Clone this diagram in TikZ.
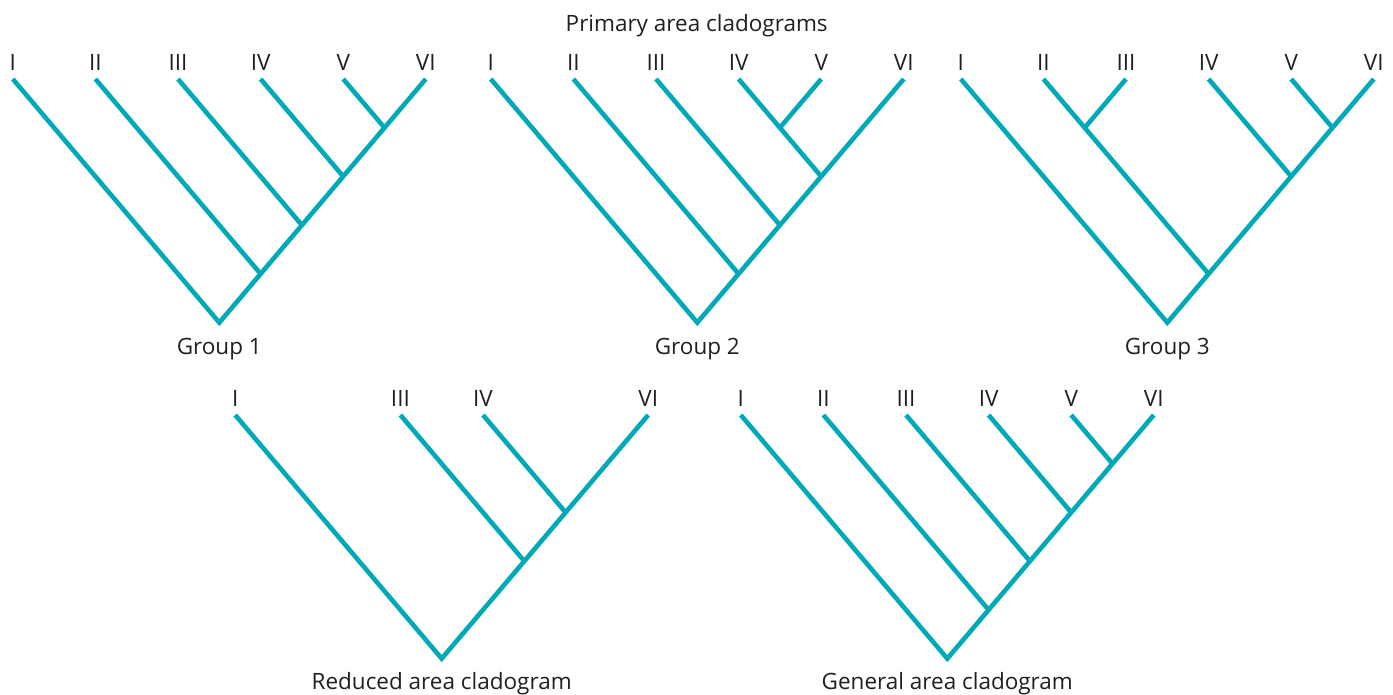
\documentclass[tikz,border=0pt]{standalone}
\usepackage{fontspec}
\setmainfont{Open Sans}
\definecolor{tealc}{HTML}{00A9B7}
\definecolor{ink}{HTML}{231F20}
\newcommand\dd{82.6}
\newcommand\ssl{1.1796}
\newcommand\J[3]{\coordinate (#1) at ({(#2+#3)/2*\dd},{(#3-#2)/2*\dd*\ssl});}
\newcommand\Tip[2]{\coordinate (t#1) at ({#1*\dd},0); \node[lab] (l#1) at ({#1*\dd},-8.5) {#2};}
\begin{document}
\begin{tikzpicture}[x=1pt,y=-1pt,
  lab/.style={anchor=base,inner sep=0pt,text=ink,font=\fontsize{22.5}{26}\selectfont},
  captxt/.style={anchor=base,inner sep=0pt,text=ink,font=\fontsize{22.5}{26}\selectfont},
  br/.style={draw=tealc,line width=4.6pt,line cap=butt,line join=miter}]
\useasboundingbox (0,0) rectangle (1393,694);
\fill[white] (0,0) rectangle (1393,694);
\node[captxt] (title) at (696.7,31) {Primary area cladograms};
% Group 1
\begin{scope}[shift={(12.8,79)}]
\Tip{0}{I}\Tip{1}{II}\Tip{2}{III}\Tip{3}{IV}\Tip{4}{V}\Tip{5}{VI}
\J{a45}{4}{5}\J{a35}{3}{5}\J{a25}{2}{5}\J{a15}{1}{5}\J{a05}{0}{5}
\draw[br] (t0) -- (a05) -- (t5);
\draw[br] (t1) -- (a15);
\draw[br] (t2) -- (a25);
\draw[br] (t3) -- (a35);
\draw[br] (t4) -- (a45);
\node[captxt] (g1) at ([yshift=-32]a05) {Group 1};
\end{scope}
% Group 2
\begin{scope}[shift={(490.8,79)}]
\Tip{0}{I}\Tip{1}{II}\Tip{2}{III}\Tip{3}{IV}\Tip{4}{V}\Tip{5}{VI}
\J{b34}{3}{4}\J{b35}{3}{5}\J{b25}{2}{5}\J{b15}{1}{5}\J{b05}{0}{5}
\draw[br] (t0) -- (b05) -- (t5);
\draw[br] (t1) -- (b15);
\draw[br] (t2) -- (b25);
\draw[br] (t3) -- (b35);
\draw[br] (t4) -- (b34);
\node[captxt] (g2) at ([yshift=-32]b05) {Group 2};
\end{scope}
% Group 3
\begin{scope}[shift={(960.8,79)}]
\Tip{0}{I}\Tip{1}{II}\Tip{2}{III}\Tip{3}{IV}\Tip{4}{V}\Tip{5}{VI}
\J{c12}{1}{2}\J{c45}{4}{5}\J{c35}{3}{5}\J{c15}{1}{5}\J{c05}{0}{5}
\draw[br] (t0) -- (c05) -- (t5);
\draw[br] (t1) -- (c15);
\draw[br] (t2) -- (c12);
\draw[br] (t3) -- (c35);
\draw[br] (t4) -- (c45);
\node[captxt] (g3) at ([yshift=-32]c05) {Group 3};
\end{scope}
% Reduced
\begin{scope}[shift={(235.2,415)}]
\Tip{0}{I}\Tip{2}{III}\Tip{3}{IV}\Tip{5}{VI}
\J{d35}{3}{5}\J{d25}{2}{5}\J{d05}{0}{5}
\draw[br] (t0) -- (d05) -- (t5);
\draw[br] (t2) -- (d25);
\draw[br] (t3) -- (d35);
\node[captxt] (g4) at ([yshift=-31]d05) {Reduced area cladogram};
\end{scope}
% General
\begin{scope}[shift={(740.8,415)}]
\Tip{0}{I}\Tip{1}{II}\Tip{2}{III}\Tip{3}{IV}\Tip{4}{V}\Tip{5}{VI}
\J{e45}{4}{5}\J{e35}{3}{5}\J{e25}{2}{5}\J{e15}{1}{5}\J{e05}{0}{5}
\draw[br] (t0) -- (e05) -- (t5);
\draw[br] (t1) -- (e15);
\draw[br] (t2) -- (e25);
\draw[br] (t3) -- (e35);
\draw[br] (t4) -- (e45);
\node[captxt] (g5) at ([yshift=-31]e05) {General area cladogram};
\end{scope}
\end{tikzpicture}
\end{document}
